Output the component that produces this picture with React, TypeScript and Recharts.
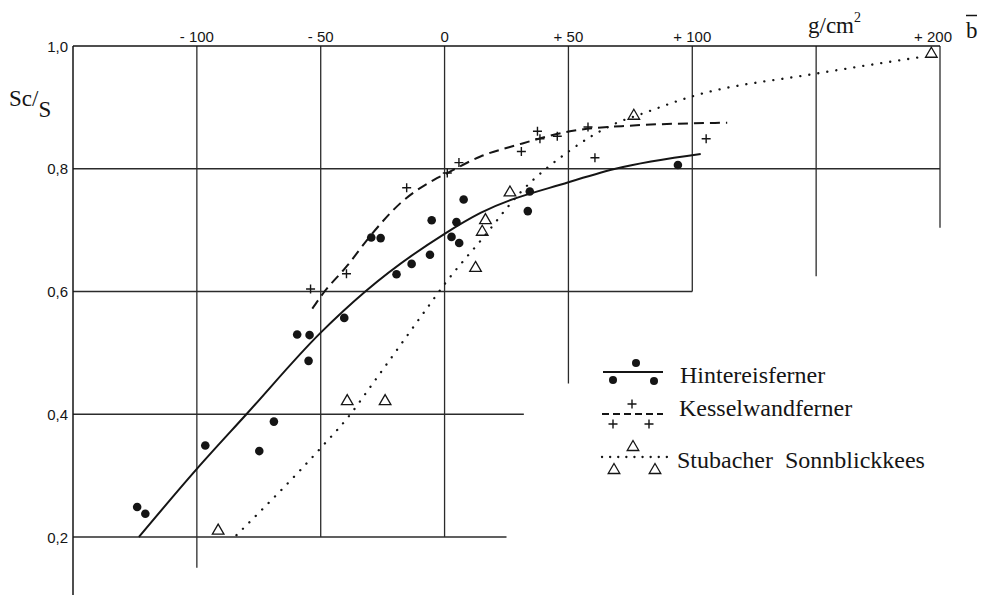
import React from 'react';
import { ComposedChart, XAxis, YAxis, Line, Scatter, ReferenceLine } from 'recharts';

// ---- axes / ticks ----
const xTicks = [-100, -50, 0, 50, 100, 200];
const xTickLabels = ['- 100', '- 50', '0', '+ 50', '+ 100', '+ 200'];
const yTicks = [0.2, 0.4, 0.6, 0.8, 1.0];
const yTickLabels = ['0,2', '0,4', '0,6', '0,8', '1,0'];

// ---- partial grid (data units) ----
const vGridX = [-100, -50, 0, 50, 100, 150, 200];
const vGridBottom = [0.15, 0.2, 0.2, 0.45, 0.6, 0.625, 0.704];
const hGridY = [0.8, 0.6, 0.4, 0.2];
const hGridRight = [200, 100, 32, 25];

// ---- Hintereisferner ----
const hintereisX = [-124.1, -120.8, -96.6, -74.8, -68.9, -59.5, -54.5, -54.9, -40.5, -29.6, -25.8, -19.4, -13.3, -5.9, -5.2, 2.8, 4.8, 5.9, 7.7, 34.4, 33.6, 94.2];
const hintereisY = [0.249, 0.238, 0.349, 0.340, 0.388, 0.530, 0.529, 0.487, 0.557, 0.688, 0.687, 0.628, 0.645, 0.660, 0.716, 0.689, 0.713, 0.679, 0.750, 0.763, 0.731, 0.806];
const hintereisCurveX = [-123.4, -100, -80, -50, -32, 0, 14.5, 50, 69, 103.4];
const hintereisCurveY = [0.2, 0.311, 0.4, 0.533, 0.6, 0.694, 0.728, 0.778, 0.8, 0.824];

// ---- Kesselwandferner ----
const kesselX = [-54.1, -39.6, -15.3, 1.1, 5.8, 31, 37.5, 38.5, 45.5, 57.9, 60.7, 105.6];
const kesselY = [0.604, 0.629, 0.769, 0.793, 0.810, 0.828, 0.861, 0.849, 0.853, 0.868, 0.818, 0.849];
const kesselCurveX = [-53.4, -49.4, -39.3, -29.9, -17.8, -4.3, 1.1, 14.5, 29.5, 50.6, 73.8, 114.1];
const kesselCurveY = [0.572, 0.595, 0.642, 0.691, 0.744, 0.782, 0.793, 0.820, 0.839, 0.861, 0.870, 0.875];

// ---- Stubacher Sonnblickkees ----
const stubacherX = [-91.4, -39.3, -24, 12.5, 15.2, 16.5, 26.4, 76.4, 196.5];
const stubacherY = [0.212, 0.423, 0.423, 0.640, 0.699, 0.718, 0.763, 0.888, 0.989];
const stubacherCurveX = [-84, -50, -38, -29, -4, 0, 15, 31, 50, 68, 80, 100, 150, 194];
const stubacherCurveY = [0.203, 0.345, 0.40, 0.45, 0.59, 0.612, 0.685, 0.763, 0.828, 0.872, 0.89, 0.918, 0.955, 0.983];

const seriesNames = ['Hintereisferner', 'Kesselwandferner', 'Stubacher\u00a0 Sonnblickkees'];

const zip = (xs: number[], ys: number[]) => xs.map((x, i) => ({ x, y: ys[i] }));

const INK = '#151515';
const GRID = '#2b2b2b';
const SANS = '"Liberation Sans", Arial, sans-serif';
const SERIF = '"Liberation Serif", "Times New Roman", serif';

const DotShape = (p: any) => <circle cx={p.cx} cy={p.cy} r={4.3} fill={INK} />;
const PlusShape = (p: any) => (
  <path d={`M${p.cx - 4.5},${p.cy}H${p.cx + 4.5}M${p.cx},${p.cy - 4.5}V${p.cy + 4.5}`} stroke={INK} strokeWidth={1.4} fill="none" />
);
const TriShape = (p: any) => (
  <path d={`M${p.cx},${p.cy - 5.5}L${p.cx + 5.8},${p.cy + 4.5}L${p.cx - 5.8},${p.cy + 4.5}Z`} stroke={INK} strokeWidth={1.3} fill="none" />
);

const TopTick = (props: any) => {
  const { x, y, payload, index } = props;
  const i = xTicks.indexOf(payload.value);
  const label = xTickLabels[i >= 0 ? i : index];
  const dx = payload.value === 200 ? -7 : 0;
  return (
    <text x={x + dx} y={y - 4.5} textAnchor="middle" fontFamily={SANS} fontSize={15} fill={INK}>
      {label}
    </text>
  );
};

const LeftTick = (props: any) => {
  const { x, y, payload } = props;
  const i = yTicks.findIndex((v) => Math.abs(v - payload.value) < 1e-6);
  return (
    <text x={x - 5} y={y + 5.5} textAnchor="end" fontFamily={SANS} fontSize={15} fill={INK}>
      {yTickLabels[i]}
    </text>
  );
};

export default function App() {
  const hinPts = zip(hintereisX, hintereisY);
  const kesPts = zip(kesselX, kesselY);
  const stuPts = zip(stubacherX, stubacherY);
  const hinCurve = zip(hintereisCurveX, hintereisCurveY);
  const kesCurve = zip(kesselCurveX, kesselCurveY);
  const stuCurve = zip(stubacherCurveX, stubacherCurveY);

  return (
    <div style={{ position: 'absolute', left: 0, top: 0, width: 987, height: 595, background: '#fff', overflow: 'hidden' }}>
      <ComposedChart width={987} height={595} margin={{ top: 0, right: 47, bottom: 0, left: 0 }}>
        <XAxis
          type="number"
          dataKey="x"
          orientation="top"
          domain={[-150, 200]}
          allowDataOverflow
          ticks={xTicks}
          height={46}
          tickSize={0}
          tickMargin={0}
          tickLine={false}
          tick={TopTick}
          axisLine={{ stroke: INK, strokeWidth: 1.5 }}
        />
        <YAxis
          type="number"
          domain={[0.1055, 1]}
          allowDataOverflow
          ticks={yTicks}
          width={73}
          tickSize={0}
          tickMargin={0}
          tickLine={false}
          tick={LeftTick}
          axisLine={{ stroke: INK, strokeWidth: 1.5 }}
        />
        {vGridX.map((gx, i) => (
          <ReferenceLine
            key={'v' + i}
            segment={[{ x: gx, y: 1 }, { x: gx, y: vGridBottom[i] }]}
            stroke={GRID}
            strokeWidth={1.3}
          />
        ))}
        {hGridY.map((gy, i) => (
          <ReferenceLine
            key={'h' + i}
            segment={[{ x: -150, y: gy }, { x: hGridRight[i], y: gy }]}
            stroke={GRID}
            strokeWidth={1.3}
          />
        ))}
        <Line data={hinCurve} dataKey="y" type="monotone" stroke={INK} strokeWidth={2} dot={false} activeDot={false} isAnimationActive={false} />
        <Line data={kesCurve} dataKey="y" type="monotone" stroke={INK} strokeWidth={2} strokeDasharray="10 6" dot={false} activeDot={false} isAnimationActive={false} />
        <Line data={stuCurve} dataKey="y" type="monotone" stroke={INK} strokeWidth={2.3} strokeDasharray="0.1 9" strokeLinecap="round" dot={false} activeDot={false} isAnimationActive={false} />
        <Scatter data={hinPts} dataKey="y" shape={DotShape} isAnimationActive={false} />
        <Scatter data={kesPts} dataKey="y" shape={PlusShape} isAnimationActive={false} />
        <Scatter data={stuPts} dataKey="y" shape={TriShape} isAnimationActive={false} />
      </ComposedChart>

      <svg width={987} height={595} style={{ position: 'absolute', left: 0, top: 0, pointerEvents: 'none' }}>
        {/* axis titles */}
        <text x={9} y={106} fontFamily={SERIF} fontSize={23} fill={INK}>
          Sc/<tspan dx={0} dy={11}>S</tspan>
        </text>
        <text x={808} y={33} fontFamily={SERIF} fontSize={23} fill={INK}>
          g/cm<tspan dy={-11} fontSize={14}>2</tspan>
        </text>
        <text x={966} y={38} fontFamily={SERIF} fontSize={23} fill={INK}>b</text>
        <line x1={966} x2={977} y1={15.5} y2={15.5} stroke={INK} strokeWidth={1.5} />

        {/* legend */}
        <g>
          <line x1={603} x2={663} y1={372} y2={372} stroke={INK} strokeWidth={2} />
          <circle cx={636} cy={363} r={4} fill={INK} />
          <circle cx={613} cy={380} r={4} fill={INK} />
          <circle cx={654} cy={381} r={4} fill={INK} />
          <text x={680} y={383} fontFamily={SERIF} fontSize={24} fill={INK}>{seriesNames[0]}</text>
        </g>
        <g>
          <line x1={602} x2={663} y1={414} y2={414} stroke={INK} strokeWidth={2} strokeDasharray="7 4" />
          {[[632, 404], [613, 424], [649, 424]].map(([cx, cy], i) => (
            <PlusShape key={i} cx={cx} cy={cy} />
          ))}
          <text x={679} y={416} fontFamily={SERIF} fontSize={24} fill={INK}>{seriesNames[1]}</text>
        </g>
        <g>
          <line x1={602} x2={667} y1={457} y2={457} stroke={INK} strokeWidth={2.3} strokeDasharray="0.1 8" strokeLinecap="round" />
          {[[633, 446], [614, 469], [655, 469]].map(([cx, cy], i) => (
            <TriShape key={i} cx={cx} cy={cy} />
          ))}
          <text x={677} y={468} fontFamily={SERIF} fontSize={24} fill={INK}>{seriesNames[2]}</text>
        </g>
      </svg>
    </div>
  );
}
